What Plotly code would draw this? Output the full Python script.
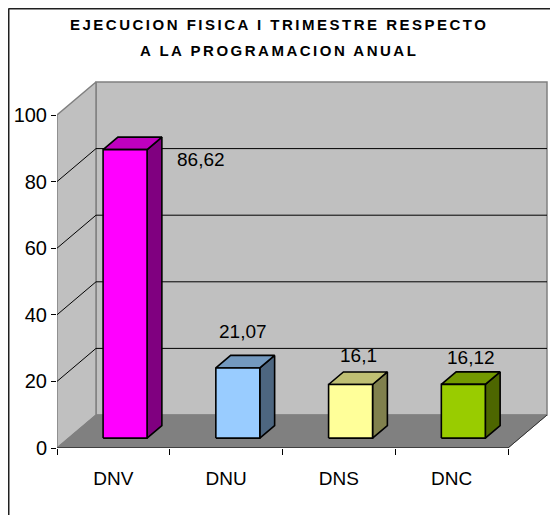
import plotly.graph_objects as go

# ---- data ----
categories = ["DNV", "DNU", "DNS", "DNC"]
values = [86.62, 21.07, 16.1, 16.12]
value_labels = ["86,62", "21,07", "16,1", "16,12"]
y_ticks = [0, 20, 40, 60, 80, 100]
title_lines = ["EJECUCION FISICA I TRIMESTRE RESPECTO", "A LA PROGRAMACION ANUAL"]

# ---- style ----
front_colors = ["#FF00FF", "#99CCFF", "#FFFF99", "#99CC00"]
top_colors = ["#BF00BF", "#7399BF", "#BFBF73", "#739900"]
side_colors = ["#800080", "#4D6680", "#80804D", "#4D6600"]
label_dx = [0.78, 0.15, 0.17, 0.17]     # label offset from category centre (category units)
label_dy = [-0.1, 14.0, 11.8, 11.2]      # label offset above value (value units)

OFF = 8              # page body margin
W, H = 558 - OFF, 515 - OFF
ML = 57 - OFF
MB = H - (448 - OFF)
SX = 112.75          # px per category
SY = 3.33            # px per value unit
DX = 39 / SX         # depth offset in category units
DY = 33 / SY         # depth offset in value units
BW = 0.39            # bar width
F0, F1 = 0.30, 0.68  # bar depth position (front/back fraction)
YMAX = 100
NCAT = len(categories)
FONT = "Liberation Sans, Arial, sans-serif"
PW, PH = W - ML, H - MB

fig = go.Figure()

def poly(xs, ys, fill, line_color, lw):
    fig.add_trace(go.Scatter(x=xs + [xs[0]], y=ys + [ys[0]], mode="lines", fill="toself",
                             fillcolor=fill, line=dict(color=line_color, width=lw),
                             hoverinfo="skip", showlegend=False))

def seg(xs, ys, color, lw):
    fig.add_trace(go.Scatter(x=xs, y=ys, mode="lines", line=dict(color=color, width=lw),
                             hoverinfo="skip", showlegend=False))

# walls
poly([DX, NCAT + DX, NCAT + DX, DX], [DY, DY, YMAX + DY, YMAX + DY], "#C0C0C0", "#808080", 1.5)
poly([0, DX, DX, 0], [0, DY, YMAX + DY, YMAX], "#C0C0C0", "#808080", 1.5)
poly([0, DX, NCAT + DX, NCAT], [0, DY, DY, 0], "#808080", "#808080", 1)
seg([NCAT + DX, NCAT], [DY, 0], "#303030", 1)

# gridlines
for t in y_ticks[1:-1]:
    seg([0, DX, NCAT + DX], [t, t + DY, t + DY], "#000000", 1)

# bars
for i, v in enumerate(values):
    cx = i + 0.5
    xl, xr = cx - BW / 2, cx + BW / 2
    o0x, o0y = F0 * DX, F0 * DY
    o1x, o1y = F1 * DX, F1 * DY
    poly([xr + o0x, xr + o1x, xr + o1x, xr + o0x], [o0y, o1y, v + o1y, v + o0y],
         side_colors[i], "#000000", 1.6)
    poly([xl + o0x, xr + o0x, xr + o1x, xl + o1x], [v + o0y, v + o0y, v + o1y, v + o1y],
         top_colors[i], "#000000", 1.6)
    poly([xl + o0x, xr + o0x, xr + o0x, xl + o0x], [o0y, o0y, v + o0y, v + o0y],
         front_colors[i], "#000000", 1.6)
    fig.add_annotation(x=cx + label_dx[i], y=v + label_dy[i], text=value_labels[i],
                       showarrow=False, font=dict(family=FONT, size=19, color="#000000"))

# front axis line
seg([0, NCAT], [0, 0], "#000000", 1.2)

fig.update_xaxes(range=[0, PW / SX], showgrid=False, zeroline=False, showline=False,
                 tickvals=[i + 0.5 for i in range(NCAT)], ticktext=categories, ticks="",
                 ticklabelstandoff=17,
                 minor=dict(tickvals=list(range(NCAT + 1)), ticks="outside", ticklen=6,
                            tickcolor="#000000", tickwidth=1, showgrid=False),
                 tickfont=dict(family=FONT, size=19, color="#000000"), fixedrange=True)
fig.update_yaxes(range=[0, PH / SY], showgrid=False, zeroline=False, showline=False,
                 tickvals=y_ticks, ticks="outside", ticklen=5, tickcolor="#000000",
                 tickwidth=1, ticklabelstandoff=0,
                 tickfont=dict(family=FONT, size=20, color="#000000"), fixedrange=True)

# title
title_y = [24 - OFF, 50 - OFF]
for line, py in zip(title_lines, title_y):
    fig.add_annotation(xref="paper", yref="paper", x=(279 - OFF - ML) / PW, y=(PH - py) / PH,
                       text='<span style="letter-spacing:2.5px">' + line + '</span>',
                       showarrow=False, xanchor="center", yanchor="middle",
                       font=dict(family=FONT, size=15, color="#000000", weight="bold"))

# frame (top and left border)
top_y = (PH - 0.5) / PH
left_x = (0.5 - ML) / PW
fig.add_shape(type="line", xref="paper", yref="paper", x0=left_x, x1=1.01, y0=top_y, y1=top_y,
              line=dict(color="#202020", width=2))
fig.add_shape(type="line", xref="paper", yref="paper", x0=left_x, x1=left_x, y0=top_y, y1=-0.2,
              line=dict(color="#202020", width=2))

fig.update_layout(width=W, height=H, margin=dict(l=ML, r=0, t=0, b=MB),
                  paper_bgcolor="#FFFFFF", plot_bgcolor="rgba(0,0,0,0)", showlegend=False)

fig.write_html("out.html")
